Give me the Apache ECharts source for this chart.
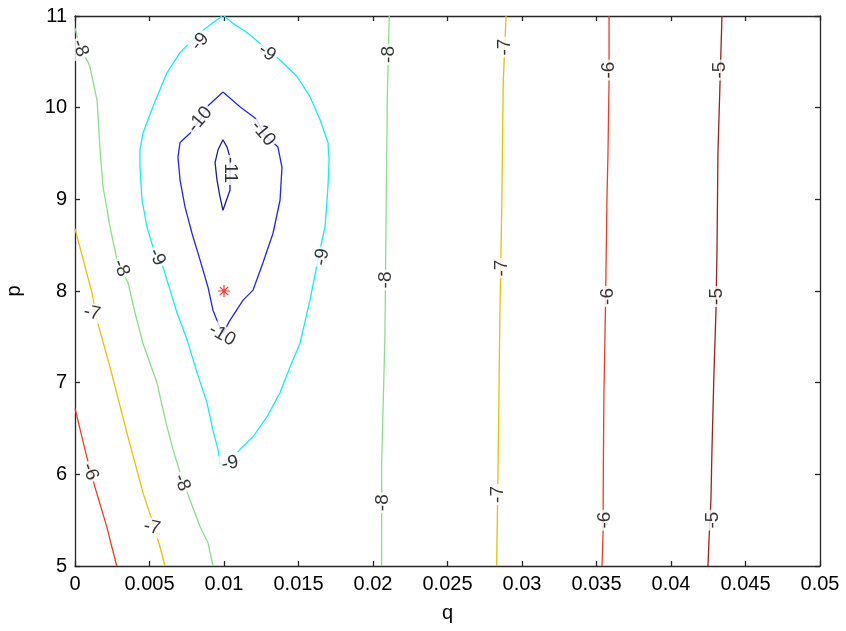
<!DOCTYPE html>
<html>
<head>
<meta charset="utf-8">
<script src="https://cdn.jsdelivr.net/npm/echarts@6/dist/echarts.min.js"></script>
<style>html,body{margin:0;padding:0;background:#fff}#c{width:846px;height:631px}</style>
</head>
<body>
<div id="c"></div>
<script>
// Axis ticks
const qTicks = [0, 0.005, 0.01, 0.015, 0.02, 0.025, 0.03, 0.035, 0.04, 0.045, 0.05];
const pTicks = [5, 6, 7, 8, 9, 10, 11];

// Contour lines, [q, p] points
const c_m5 = [[0.04248,5],[0.04255,5.28],[0.04268,5.72],[0.04275,6.27],[0.04289,7.14],[0.04302,7.79],[0.04309,8.48],[0.04315,9.50],[0.04329,10.27],[0.04342,11]];
const c_m6 = [[0.03537,5],[0.03544,5.36],[0.03546,6.12],[0.0355,6.90],[0.0356,7.79],[0.0357,8.99],[0.03577,9.50],[0.03584,10.27],[0.03584,11]];
const c_m7r = [[0.0283,5],[0.02841,6.30],[0.02852,7.79],[0.02864,8.88],[0.02874,10.27],[0.02893,11]];
const c_m8r = [[0.02058,5],[0.02058,6.12],[0.0208,7.50],[0.02087,8.70],[0.02096,10.12],[0.02109,11]];
const c_m6l = [[0,6.72],[0.00079,6.19],[0.00134,5.86],[0.00213,5.43],[0.0028,5]];
const c_m7l = [[0,8.68],[0.00114,7.98],[0.00148,7.68],[0.00235,7.17],[0.00349,6.45],[0.00456,5.80],[0.00517,5.50],[0.0057,5.21],[0.00604,5]];
const c_m8l = [[0,10.87],[0.00034,10.65],[0.00087,10.50],[0.00101,10.44],[0.00148,10.08],[0.00168,9.54],[0.00188,9.14],[0.00235,8.70],[0.00282,8.34],[0.00356,8.09],[0.00403,7.76],[0.00456,7.43],[0.0055,7.00],[0.00617,6.52],[0.00658,6.27],[0.00705,6.02],[0.00772,5.72],[0.00839,5.43],[0.00893,5.25],[0.00926,5]];
const c_m9 = [[0.00987,11],[0.00839,10.82],[0.00705,10.60],[0.00617,10.38],[0.00523,10.01],[0.00456,9.72],[0.00436,9.54],[0.00436,9.35],[0.0045,8.99],[0.00483,8.70],[0.00523,8.48],[0.00591,8.26],[0.00638,8.01],[0.00685,7.76],[0.00752,7.47],[0.00819,7.11],[0.00886,6.78],[0.00926,6.48],[0.0096,6.27],[0.00973,6.12],[0.01007,6.09],[0.01107,6.27],[0.01195,6.41],[0.01289,6.63],[0.01376,6.89],[0.01443,7.17],[0.0151,7.43],[0.01577,7.90],[0.01644,8.45],[0.01678,8.70],[0.01698,9.14],[0.01705,9.43],[0.01698,9.62],[0.01644,9.87],[0.01577,10.12],[0.0149,10.34],[0.01376,10.52],[0.01154,10.82],[0.0106,10.92],[0.01,11]];
const c_m10 = [[0.00993,10.17],[0.01107,10.01],[0.01221,9.87],[0.01262,9.72],[0.01362,9.57],[0.01389,9.35],[0.01376,8.99],[0.01329,8.63],[0.01262,8.31],[0.01195,8.01],[0.01128,7.90],[0.0104,7.68],[0.00993,7.54],[0.0096,7.65],[0.00926,7.79],[0.00893,8.04],[0.00839,8.34],[0.00785,8.63],[0.00738,8.92],[0.00705,9.21],[0.00691,9.46],[0.00705,9.62],[0.00772,9.72],[0.00839,9.87],[0.00886,10.01],[0.00993,10.17]];
const c_m11 = [[0.00993,9.65],[0.0096,9.54],[0.0094,9.40],[0.00953,9.21],[0.00973,9.03],[0.00993,8.88],[0.0104,9.10],[0.0104,9.46],[0.0102,9.57],[0.00993,9.65]];

// Contour label positions [q, p] and texts
const labelQ = [0.04282,0.04309,0.04329, 0.03557,0.03577,0.03584, 0.02837,0.02866,0.02885, 0.02065,0.02085,0.02103, 0.00101, 0.00114,0.00517, 0.00034,0.00309,0.00718, 0.00839,0.01289,0.0055,0.01658,0.0104, 0.00839,0.01262,0.00987, 0.0104];
const labelP = [5.50,7.94,10.41, 5.50,7.94,10.41, 5.78,8.25,10.66, 5.69,8.12,10.58, 6.03, 7.76,5.42, 10.65,8.25,5.91, 10.72,10.60,8.37,8.37,6.12, 9.87,9.72,7.52, 9.32];
const labelText = ['-5','-5','-5','-6','-6','-6','-7','-7','-7','-8','-8','-8','-6','-7','-7','-8','-8','-8','-9','-9','-9','-9','-9','-10','-10','-10','-11'];
const labelAngle = [90,90,90, 90,90,90, 90,90,90, 90,90,90, -70, -12,-12, -70,-68,-68, 50,-35,-65,80,12, 50,-50,-30, -90];

// Optimum marker
const optQ = [0.01];
const optP = [8];

const colors = {m5:'#a01e1e', m6:'#f03c1e', m7:'#e8c000', m8:'#8ade8a', m9:'#10eef0', m10:'#2424f0', m11:'#1a1aa0'};

const lineDefs = [
  [c_m5, colors.m5],[c_m6, colors.m6],[c_m7r, colors.m7],[c_m8r, colors.m8],
  [c_m6l, colors.m6],[c_m7l, colors.m7],[c_m8l, colors.m8],
  [c_m9, colors.m9],[c_m10, colors.m10],[c_m11, colors.m11]
];

const series = lineDefs.map(([d, col]) => ({
  type: 'line', data: d, showSymbol: false, symbol: 'none', smooth: false,
  lineStyle: {color: col, width: 1.3}, z: 2, silent: true
}));

series.push({
  type: 'scatter', z: 5, symbolSize: 1, itemStyle: {color: 'rgba(0,0,0,0)'},
  data: labelQ.map((q, i) => ({
    value: [q, labelP[i]],
    label: {show: true, position: 'inside', formatter: labelText[i], rotate: labelAngle[i],
      fontFamily: 'Liberation Sans, Arial, sans-serif', fontSize: 19, color: '#000',
      backgroundColor: '#fff', padding: [0, 2]}
  }))
});

series.push({
  type: 'scatter', z: 6,
  data: optQ.map((q, i) => [q, optP[i]]),
  symbol: 'path://M0,-6L0,6M-6,0L6,0M-4.2,-4.2L4.2,4.2M-4.2,4.2L4.2,-4.2',
  symbolSize: 12,
  itemStyle: {color: 'rgba(0,0,0,0)', borderColor: '#ff0000', borderWidth: 1.2}
});

const axisLineStyle = {color: '#262626', width: 1.3};
const font = 'Liberation Sans, Arial, sans-serif';

const chart = echarts.init(document.getElementById('c'), null, {renderer: 'canvas'});
chart.setOption({
  animation: false,
  backgroundColor: '#fff',
  grid: {left: 75, right: 26, top: 16, bottom: 65, containLabel: false, outerBoundsMode: 'none'},
  xAxis: [
    {type: 'value', min: qTicks[0], max: qTicks[qTicks.length-1], interval: qTicks[1]-qTicks[0], position: 'bottom',
     axisLine: {show: true, onZero: false, lineStyle: axisLineStyle},
     axisTick: {show: true, inside: true, length: 5, lineStyle: axisLineStyle},
     axisLabel: {show: true, margin: 8, fontSize: 20, color: '#000', fontFamily: font, showMinLabel: true, showMaxLabel: true,
       formatter: v => String(+v.toFixed(3))},
     splitLine: {show: false},
     name: 'q', nameLocation: 'middle', nameGap: 37, nameTextStyle: {fontSize: 20, color: '#000', fontFamily: font}},
    {type: 'value', min: qTicks[0], max: qTicks[qTicks.length-1], interval: qTicks[1]-qTicks[0], position: 'top',
     axisLine: {show: true, onZero: false, lineStyle: axisLineStyle},
     axisTick: {show: true, inside: true, length: 5, lineStyle: axisLineStyle},
     axisLabel: {show: false}, splitLine: {show: false}}
  ],
  yAxis: [
    {type: 'value', min: pTicks[0], max: pTicks[pTicks.length-1], interval: 1, position: 'left',
     axisLine: {show: true, onZero: false, lineStyle: axisLineStyle},
     axisTick: {show: true, inside: true, length: 5, lineStyle: axisLineStyle},
     axisLabel: {show: true, margin: 8, fontSize: 20, color: '#000', fontFamily: font, showMinLabel: true, showMaxLabel: true},
     splitLine: {show: false},
     name: 'p', nameLocation: 'middle', nameGap: 51, nameTextStyle: {fontSize: 20, color: '#000', fontFamily: font}},
    {type: 'value', min: pTicks[0], max: pTicks[pTicks.length-1], interval: 1, position: 'right',
     axisLine: {show: true, onZero: false, lineStyle: axisLineStyle},
     axisTick: {show: true, inside: true, length: 5, lineStyle: axisLineStyle},
     axisLabel: {show: false}, splitLine: {show: false}}
  ],
  series: series
});
</script>
</body>
</html>
